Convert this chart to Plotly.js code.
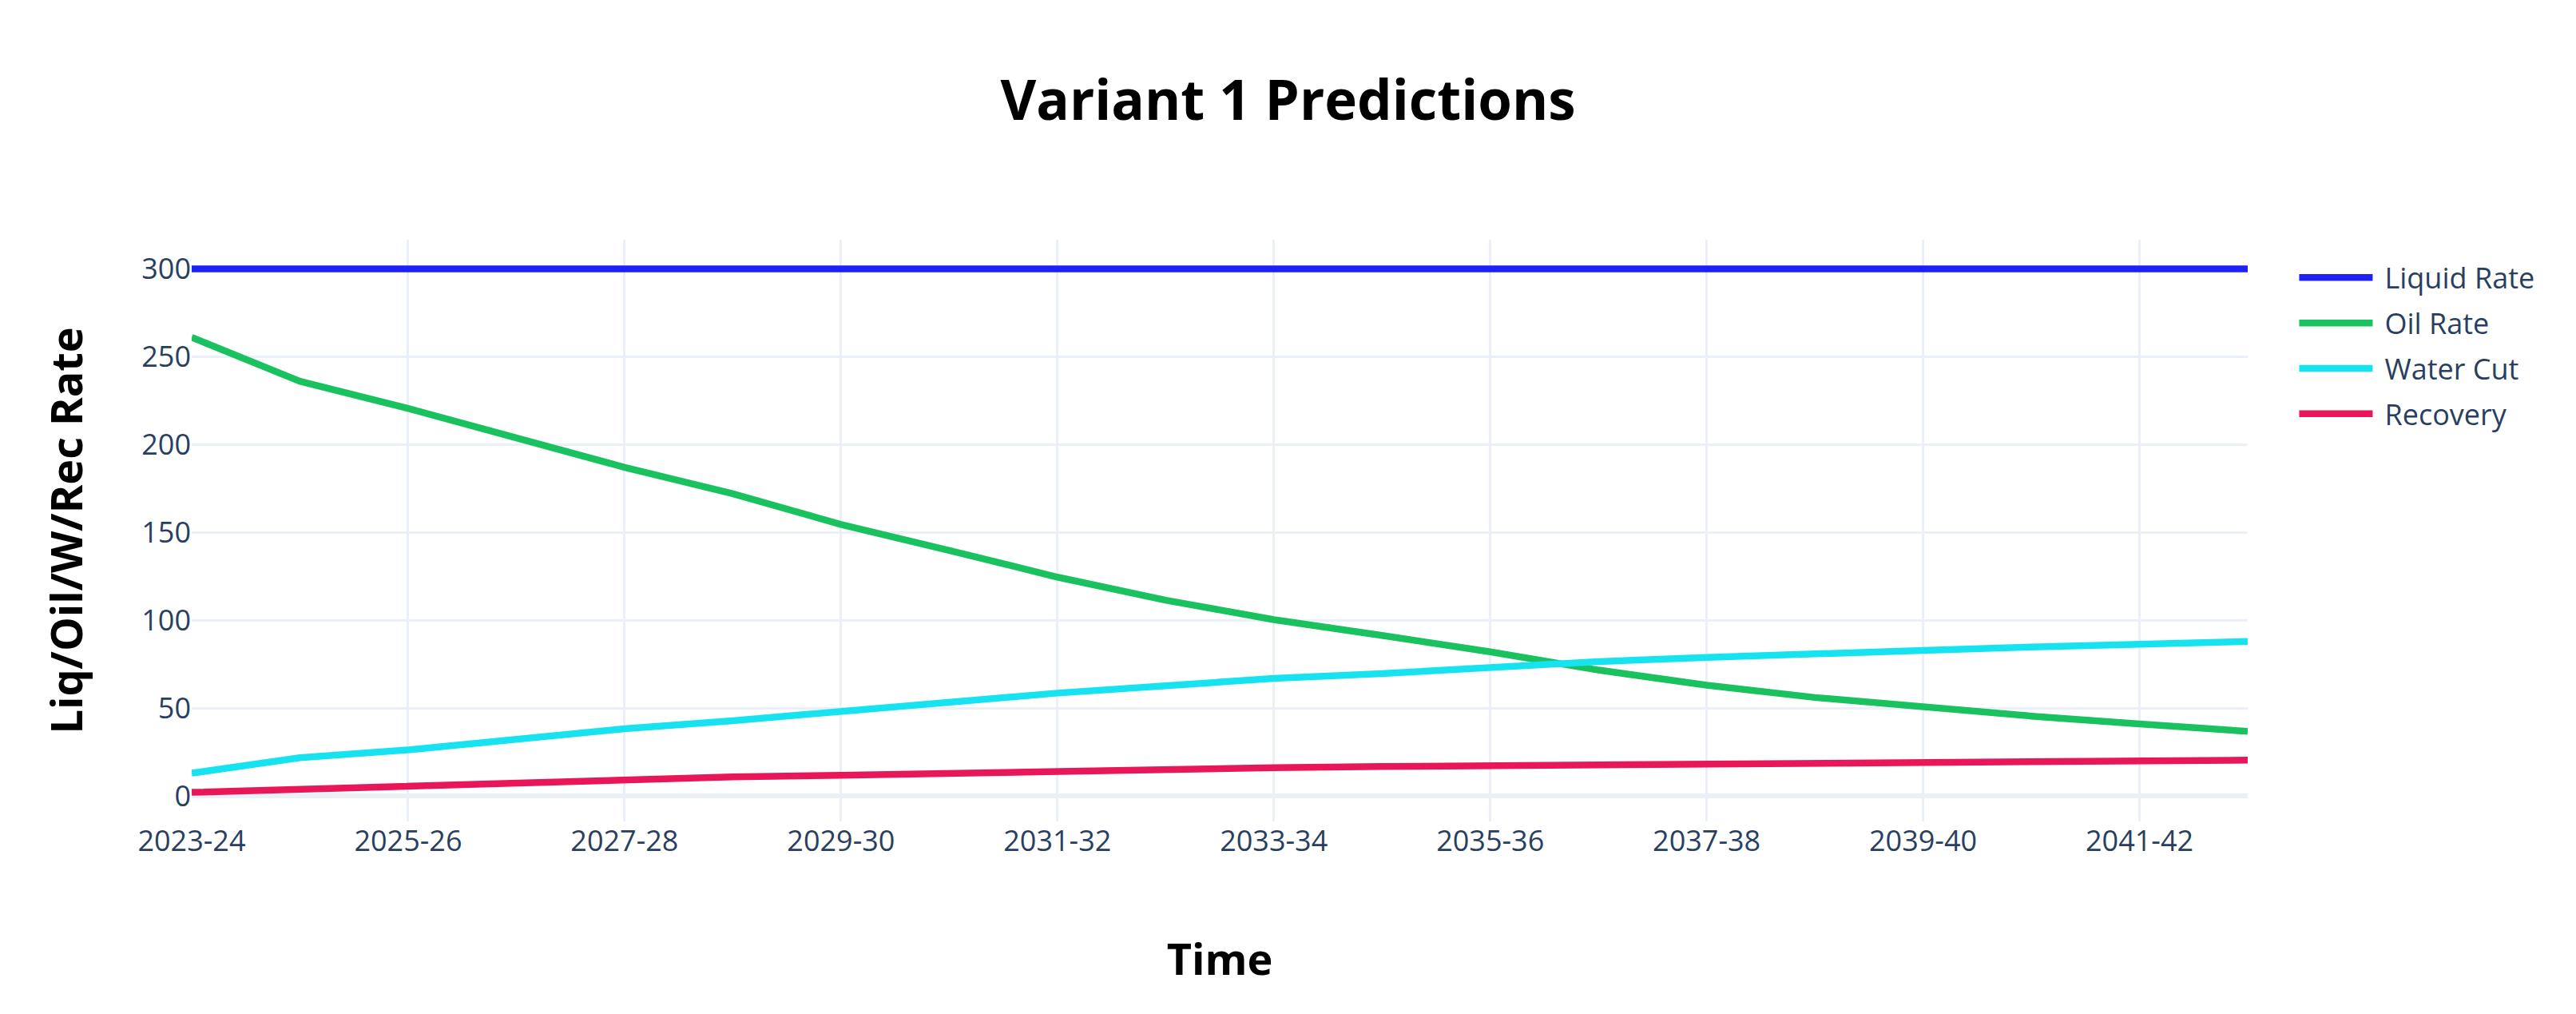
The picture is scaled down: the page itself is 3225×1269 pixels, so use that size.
<!DOCTYPE html>
<html>
<head>
<meta charset="utf-8">
<script src="https://cdn.plot.ly/plotly-3.0.1.min.js"></script>
<style>html,body{margin:0;padding:0;background:#fff;}#chart{width:3225px;height:1269px;}
#chart .legendtext{transform:translateX(10px);}
#chart .legend, #chart .legend *{clip-path:none !important;}</style>
</head>
<body>
<div id="chart"></div>
<script>
const years = ["2023-24","2024-25","2025-26","2026-27","2027-28","2028-29","2029-30","2030-31","2031-32","2032-33","2033-34","2034-35","2035-36","2036-37","2037-38","2038-39","2039-40","2040-41","2041-42","2042-43"];
const liquidRate = [300,300,300,300,300,300,300,300,300,300,300,300,300,300,300,300,300,300,300,300];
const oilRate = [261,236,220.5,203.5,187,172,154.5,139.7,124.5,111.4,100.3,91.3,82,71.6,63,56,50.5,45.4,40.9,36.7];
const waterCut = [12.9,21.7,26.2,31.9,38.2,42.8,48.1,53.3,58.5,62.6,66.9,69.6,73,76.4,78.8,81.1,82.8,84.7,86.5,87.9];
const recovery = [2.0,3.8,5.6,7.7,9.7,10.8,11.7,12.9,13.8,14.9,16.0,16.7,17.2,17.8,18.3,18.8,19.2,19.6,19.9,20.3];
const seriesNames = ["Liquid Rate","Oil Rate","Water Cut","Recovery"];
const seriesColors = ["#1F20F5","#19C25F","#17E3F0","#E8175A"];

const LW = 8.5;
const allY = [liquidRate, oilRate, waterCut, recovery];
const traces = allY.map((y, i) => ({
  x: years, y: y, name: seriesNames[i], legendgroup: "g" + i,
  mode: "lines", line: {color: seriesColors[i], width: LW}
}));

const layout = {
  width: 3225, height: 1269,
  paper_bgcolor: "#fff", plot_bgcolor: "#fff",
  font: {family: '"Open Sans", verdana, arial, sans-serif', size: 36, color: "#2a3f5f"},
  margin: {l: 240, r: 411, t: 300, b: 241, pad: 0},
  title: {text: "<b>Variant 1 Predictions</b>", font: {size: 69, color: "#000"}, x: 0.5, xanchor: "center"},
  xaxis: {
    type: "category",
    title: {text: "<b>Time</b>", font: {size: 54, color: "#000"}, standoff: 107},
    tickmode: "linear", tick0: 0, dtick: 2,
    showgrid: true, gridcolor: "#EBF0F8", gridwidth: 3,
    zeroline: false, showline: false, ticks: "",
    tickfont: {size: 36, color: "#2a3f5f"}
  },
  yaxis: {
    title: {text: "<b>Liq/Oil/W/Rec Rate</b>", font: {size: 54, color: "#000"}, standoff: 56},
    showgrid: true, gridcolor: "#EBF0F8", gridwidth: 3,
    zeroline: true, zerolinecolor: "#EBF0F8", zerolinewidth: 6,
    showline: false, ticks: "",
    tickfont: {size: 36, color: "#2a3f5f"},
    dtick: 50
  },
  legend: {font: {size: 36, color: "#2a3f5f"}, x: 1.0231, y: 0.976, xanchor: "left", yanchor: "top",
           tracegroupgap: 7, itemwidth: 92},
  showlegend: true
};

Plotly.newPlot("chart", traces, layout, {staticPlot: true, displayModeBar: false});
</script>
</body>
</html>
